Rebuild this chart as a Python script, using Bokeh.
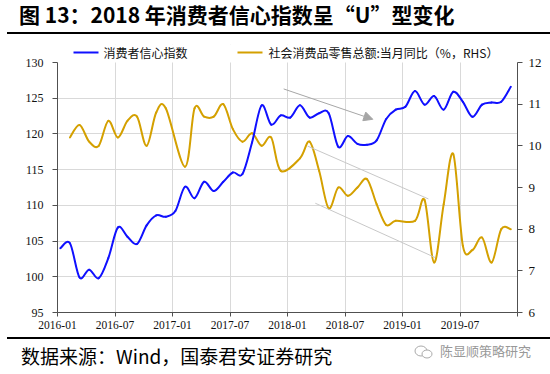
import math
from bokeh.plotting import figure
from bokeh.layouts import column
from bokeh.core.properties import value
from bokeh.models import (Range1d, LinearAxis, FixedTicker, Arrow, NormalHead, Div,
                          Label, BoxAnnotation)
from bokeh.embed import file_html
from bokeh.resources import INLINE

# ---------------- data ----------------
month_index = list(range(48))  # 2016-01 ... 2019-12
cci = [104.0, 104.7, 99.9, 101.0, 99.8, 102.6, 106.9, 105.6, 104.6, 107.2, 108.6, 108.4,
       109.2, 112.6, 111.0, 113.3, 112.0, 113.3, 114.6, 114.4, 118.8, 124.0, 121.3, 122.6,
       122.3, 124.0, 122.3, 122.9, 122.9, 118.2, 119.7, 118.6, 118.5, 119.1, 122.1, 123.4,
       123.8, 126.0, 124.1, 125.3, 123.4, 125.9, 124.5, 122.4, 124.1, 124.4, 124.5, 126.6]
nan = float("nan")
retail = [nan, 10.2, 10.5, 10.1, 10.0, 10.6, 10.2, 10.6, 10.7, 10.0, 10.8, 10.9,
          nan, 9.5, 10.9, 10.7, 10.7, 11.0, 10.4, 10.1, 10.3, 10.0, 10.2, 9.4,
          nan, 9.7, 10.1, 9.4, 8.5, 9.0, 8.8, 9.0, 9.2, 8.6, 8.1, 8.2,
          nan, 8.2, 8.7, 7.2, 8.6, 9.8, 7.6, 7.5, 7.8, 7.2, 8.0, 8.0]
tick_months = [0, 6, 12, 18, 24, 30, 36, 42, 48]
tick_labels = ["2016-01", "2016-07", "2017-01", "2017-07", "2018-01",
               "2018-07", "2019-01", "2019-07", ""]
left_ticks = [95, 100, 105, 110, 115, 120, 125, 130]
right_ticks = [6, 7, 8, 9, 10, 11, 12]
cci_name = "消费者信心指数"
retail_name = "社会消费品零售总额:当月同比（%，RHS）"
title_text = "图 13：2018 年消费者信心指数呈“U”型变化"
source_text = "数据来源：Wind，国泰君安证券研究"
mark_text = "陈显顺策略研究"
# trend annotations (month, left-axis value)
trend_arrow = (23.6, 126.3, 32.9, 122.05)
trend_lines = [(26.1, 118.3, 38.7, 110.9), (26.9, 110.3, 39.4, 102.7)]

BLUE = "#1010FF"
GOLD = "#D4A000"
SERIF = "Liberation Serif"
CJK = "Noto Sans CJK SC"
X_OFF = 0.3
W = 550
TOP_H, MAIN_H, BOT_H = 38, 298, 38
# page geometry of the plotting frame
FX0, FX1 = 57, 517          # left / right edge (page px)
FY0, AX_TOP, FY1 = 44, 62, 312   # frame top, top of value axes, frame bottom (page px)
L, R = FX0, W - FX1
T, B = FY0 - TOP_H, TOP_H + MAIN_H - FY1
LMIN, LMAX = left_ticks[0], left_ticks[-1]
RMIN, RMAX = right_ticks[0], right_ticks[-1]
ext = (FY1 - FY0) / (FY1 - AX_TOP)   # frame extends above the axes to hold the legend


def span(x, top, s, size, color="#111111", weight="normal"):
    return (f'<span style="position:absolute;left:{x}px;top:{top}px;font-size:{size}px;'
            f'line-height:{size}px;color:{color};font-weight:{weight};white-space:nowrap;">{s}</span>')


def bar(x, top, w, h, color):
    return (f'<div style="position:absolute;left:{x}px;top:{top}px;width:{w}px;'
            f'height:{h}px;background:{color};"></div>')


def box(h, inner):
    return (f'<div style="position:relative;width:{W}px;height:{h}px;overflow:hidden;'
            f'font-family:\'{CJK}\';margin:0;padding:0;">{inner}</div>')


# ---------------- header ----------------
header = Div(text=box(TOP_H, span(19, 4, title_text, 21, "#000000", "bold")
                      + bar(7, 32, W - 7, 2, "#000000")),
             width=W, height=TOP_H, margin=(0, 0, 0, 0))

# ---------------- main chart ----------------
p = figure(width=W, height=MAIN_H, output_backend="svg", toolbar_location=None,
           x_range=Range1d(0, 48),
           y_range=Range1d(LMIN, LMIN + (LMAX - LMIN) * ext),
           min_border_left=L, min_border_right=R, min_border_top=T, min_border_bottom=B)
p.outline_line_color = None
p.extra_y_ranges = {"rhs": Range1d(RMIN, RMIN + (RMAX - RMIN) * ext),
                    "py": Range1d(FY1, FY0)}
p.extra_x_ranges = {"px": Range1d(FX0, FX1)}

p.xgrid.ticker = FixedTicker(ticks=tick_months)
p.ygrid.ticker = FixedTicker(ticks=left_ticks[:-1])
p.xgrid.grid_line_color = "#D9D9D9"
p.ygrid.grid_line_color = "#D9D9D9"
# blank the strip above the value axes (legend area)
p.add_layout(BoxAnnotation(bottom=LMAX, fill_color="white", fill_alpha=1,
                           line_alpha=0, level="underlay"))


def smooth(xs, ys):
    pts = [(x, y) for x, y in zip(xs, ys) if not math.isnan(y)]
    n = len(pts)
    d = dict(x0=[], y0=[], x1=[], y1=[], cx0=[], cy0=[], cx1=[], cy1=[])
    for k in range(n - 1):
        p0 = pts[k - 1] if k > 0 else pts[k]
        p1, p2 = pts[k], pts[k + 1]
        p3 = pts[k + 2] if k + 2 < n else pts[k + 1]
        d["x0"].append(p1[0]); d["y0"].append(p1[1])
        d["x1"].append(p2[0]); d["y1"].append(p2[1])
        d["cx0"].append(p1[0] + (p2[0] - p0[0]) / 6)
        d["cy0"].append(p1[1] + (p2[1] - p0[1]) / 6)
        d["cx1"].append(p2[0] - (p3[0] - p1[0]) / 6)
        d["cy1"].append(p2[1] - (p3[1] - p1[1]) / 6)
    return d


xs = [m + X_OFF for m in month_index]
p.bezier(line_color=GOLD, line_width=2, line_cap="round",
         y_range_name="rhs", **smooth(xs, retail))
p.bezier(line_color=BLUE, line_width=2, line_cap="round", **smooth(xs, cci))

p.xaxis.ticker = FixedTicker(ticks=tick_months)
p.xaxis.major_label_overrides = {t: lab for t, lab in zip(tick_months, tick_labels)}
p.yaxis.ticker = FixedTicker(ticks=left_ticks)
p.yaxis.bounds = (LMIN, LMAX)
rax = LinearAxis(y_range_name="rhs", ticker=FixedTicker(ticks=right_ticks),
                 bounds=(RMIN, RMAX))
p.add_layout(rax, "right")
for ax in [p.xaxis[0], p.yaxis[0], rax]:
    ax.axis_line_color = "#505050"
    ax.major_tick_line_color = "#505050"
    ax.minor_tick_line_color = None
    ax.major_tick_in = 0
    ax.major_tick_out = 5
    ax.major_label_text_font = SERIF
    ax.major_label_text_font_size = "12px"
    ax.major_label_text_color = "#111111"
p.xaxis.major_label_text_font_size = "11.5px"
p.xaxis.major_tick_out = 4
p.xaxis.major_label_standoff = 4
p.yaxis.major_label_standoff = 9
rax.major_label_text_font_size = "13px"
rax.major_label_standoff = 6

p.add_layout(Arrow(x_start=trend_arrow[0], y_start=trend_arrow[1],
                   x_end=trend_arrow[2], y_end=trend_arrow[3],
                   line_color="#A6A6A6", line_width=1,
                   end=NormalHead(size=9, fill_color="#A6A6A6", line_color="#A6A6A6")))
for (xa, ya, xb, yb) in trend_lines:
    p.add_layout(Arrow(x_start=xa, y_start=ya, x_end=xb, y_end=yb, end=None,
                       line_color="#C8C8C8", line_width=1))

# legend (inside the frame strip above the axes; page-pixel ranges)
for (x0, color, lx, name) in [(73, BLUE, 103, cci_name), (237, GOLD, 268, retail_name)]:
    p.line(x=[x0, x0 + 25], y=[52, 52], line_color=color, line_width=2,
           x_range_name="px", y_range_name="py")
    p.add_layout(Label(x=lx, y=52, text=name, text_font=CJK, text_font_size="12px",
                       text_color="#111111", text_baseline="middle",
                       x_range_name="px", y_range_name="py"))

# ---------------- footer ----------------
icon = ('<svg style="position:absolute;left:414px;top:9px;" width="20" height="14">'
        '<ellipse cx="7" cy="6" rx="6" ry="5" fill="white" stroke="#AAAAAA" stroke-width="1"/>'
        '<ellipse cx="13" cy="9" rx="5" ry="4" fill="white" stroke="#AAAAAA" stroke-width="1"/>'
        '</svg>')
footer = Div(text=box(BOT_H, bar(7, 1, W - 7, 2, "#000000")
                      + span(21, 10, source_text, 19, "#000000")
                      + icon
                      + span(440, 8, mark_text, 13, "#999999")),
             width=W, height=BOT_H, margin=(0, 0, 0, 0))

layout = column(header, p, footer, spacing=0)
open("out.html", "w").write(file_html(layout, INLINE))
